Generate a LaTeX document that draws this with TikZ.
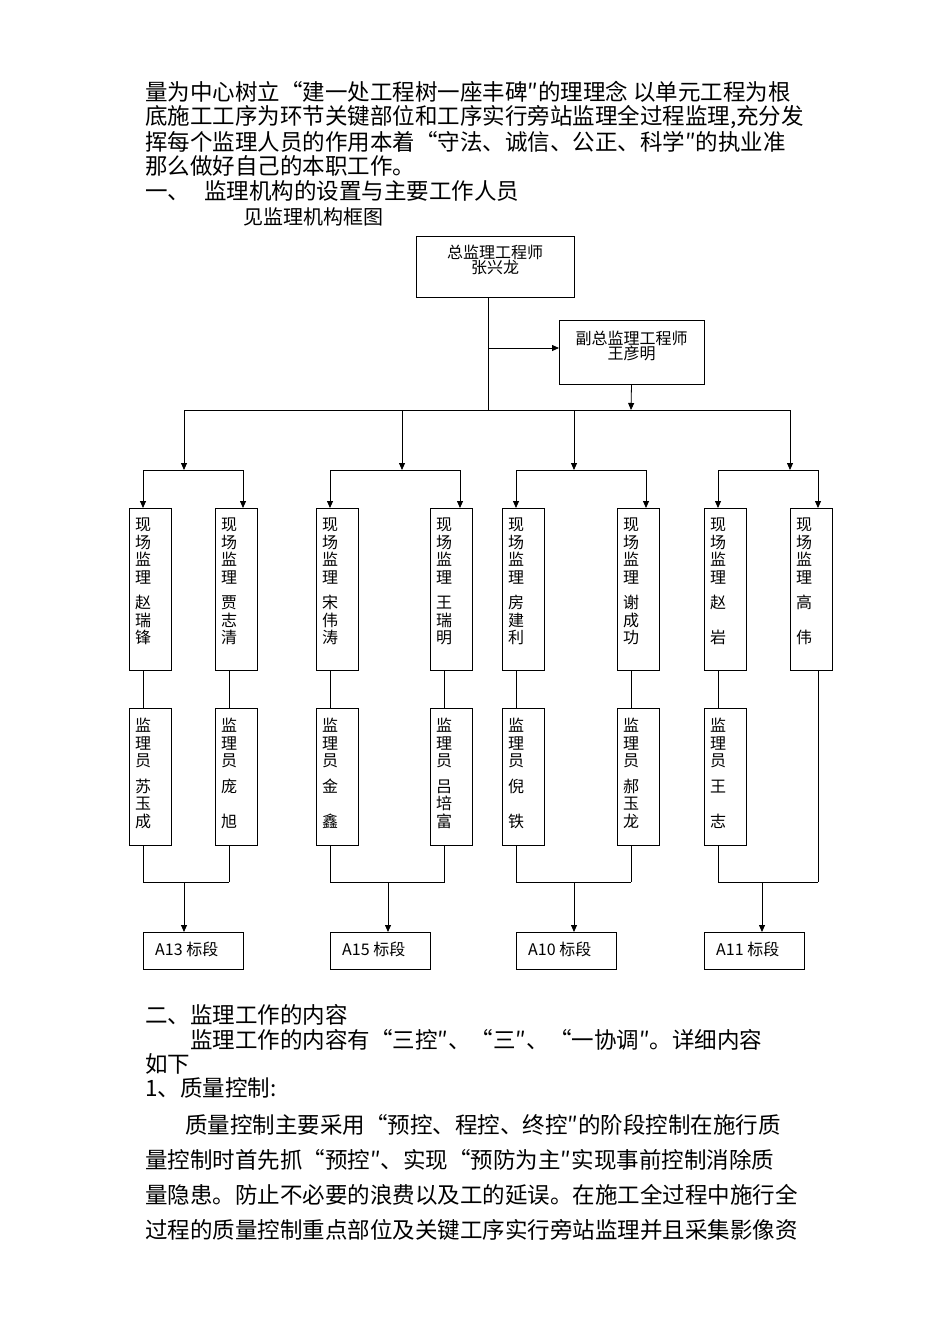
\documentclass[tikz,border=0pt]{standalone}
\usepackage{fontspec}
\setmainfont{Noto Sans CJK SC}
\usetikzlibrary{arrows.meta}
\begin{document}
\begin{tikzpicture}[x=1pt,y=-1pt,
 txt/.style={anchor=west,inner sep=0,font=\fontsize{22.5}{26}\selectfont},
 box/.style={draw,line width=0.8pt,inner sep=0},
 vt/.style={anchor=north west,inner sep=0,align=center,font=\fontsize{16}{17.5}\selectfont},
 ln/.style={line width=0.8pt},
 ar/.style={line width=0.8pt,-{Triangle[length=7pt,width=6pt]}},
 bt/.style={font=\fontsize{16}{18}\selectfont,align=center}]
\useasboundingbox (0,0) rectangle (950,1344);
\node[txt] (l1) at (145,92) {量为中心树立“建一处工程树一座丰碑″的理理念 以单元工程为根};
\node[txt] (l2) at (145,117) {底施工工序为环节关键部位和工序实行旁站监理全过程监理,充分发};
\node[txt] (l3) at (145,142) {挥每个监理人员的作用本着“守法、诚信、公正、科学″的执业准};
\node[txt] (l4) at (145,166) {那么做好自己的本职工作。};
\node[txt] (l5) at (145,191) {一、\hspace{14pt}监理机构的设置与主要工作人员};
\node[txt,font=\fontsize{20}{22}\selectfont] (l6) at (243,217) {见监理机构框图};
% chart
\node[box,minimum width=158,minimum height=61] (top) at (495,266.5) {};
\node[bt] at (495,260) {总监理工程师\\[-3pt]张兴龙};
\node[box,minimum width=145,minimum height=64] (dep) at (631.5,352) {};
\node[bt] at (631.5,346) {副总监理工程师\\[-3pt]王彦明};
\coordinate (t1) at (488,297);
\coordinate (b0) at (488,410);
\coordinate (dl) at (559,348);
\draw[ln] (t1) -- (b0);
\draw[ar] (488,348) -- (dl);
\draw[ar] (dep.south) -- (631,410);
\draw[ln] (184,410) -- (790,410);
\foreach \x/\a/\b in {184/143/243,402/330/460,574/516/646,790/718/818}{
 \draw[ar] (\x,410) -- (\x,470);
 \draw[ln] (\a,470) -- (\b,470);
 \draw[ar] (\a,470) -- (\a,508);
 \draw[ar] (\b,470) -- (\b,508);
}
\foreach \i/\l/\n in {1/129/赵\\瑞\\锋,2/215/贾\\志\\清,3/316/宋\\伟\\涛,4/430/王\\瑞\\明,5/502/房\\建\\利,6/617/谢\\成\\功,7/704/赵\\ \\岩,8/790/高\\ \\伟}{
 \draw[ln] (\l,508) rectangle (\l+42,670);
 \node[vt] (u\i) at (\l+6,518) {现\\场\\监\\理\\[8pt]\n};
}
\foreach \i/\l/\n in {1/129/苏\\玉\\成,2/215/庞\\ \\旭,3/316/金\\ \\鑫,4/430/吕\\培\\富,5/502/倪\\ \\铁,6/617/郝\\玉\\龙,7/704/王\\ \\志}{
 \draw[ln] (\l,708) rectangle (\l+42,845);
 \node[vt] (d\i) at (\l+6,718) {监\\理\\员\\[8pt]\n};
 \draw[ln] (\l+14,670) -- (\l+14,708);
 \draw[ln] (\l+14,845) -- (\l+14,882);
}
\draw[ln] (818,670) -- (818,882);
\foreach \a/\b/\m/\l/\t in {143/229/184/143/A13,330/445/388/330/A15,516/631/574/516/A10,718/818/762/704/A11}{
 \draw[ln] (\a,882) -- (\b,882);
 \draw[ar] (\m,882) -- (\m,932);
 \draw[ln] (\l,932) rectangle (\l+100,969);
 \node[anchor=west,font=\fontsize{16}{18}\selectfont,inner sep=0] at (\l+12,949) {\t\ 标段};
}
\node[txt] (s2) at (145,1015) {二、监理工作的内容};
\node[txt] (s3) at (190,1040) {监理工作的内容有“三控″、“三″、“一协调″。详细内容};
\node[txt] (s4) at (145,1064) {如下};
\node[txt] (s5) at (145,1088) {1、质量控制:};
\node[txt] (p1) at (185,1125) {质量控制主要采用“预控、程控、终控″的阶段控制在施行质};
\node[txt] (p2) at (145,1160) {量控制时首先抓“预控″、实现“预防为主″实现事前控制消除质};
\node[txt] (p3) at (145,1195) {量隐患。防止不必要的浪费以及工的延误。在施工全过程中施行全};
\node[txt] (p4) at (145,1230) {过程的质量控制重点部位及关键工序实行旁站监理并且采集影像资};
\end{tikzpicture}
\end{document}
